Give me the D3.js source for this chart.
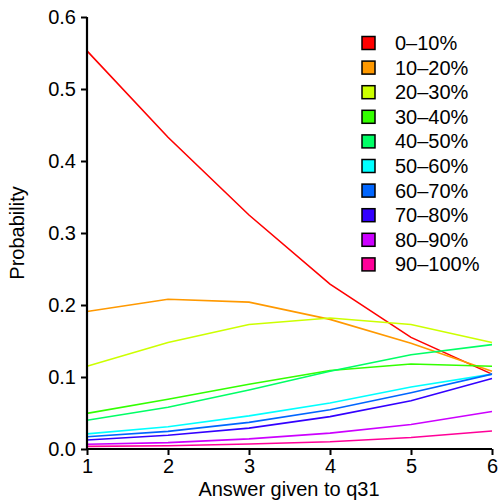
<!DOCTYPE html>
<html><head><meta charset="utf-8">
<script src="https://cdn.jsdelivr.net/npm/d3@7/dist/d3.min.js"></script>
<style>body{margin:0;background:#fff}text{font-family:"Liberation Sans",Arial,sans-serif}</style>
</head><body>
<svg id="c" width="499" height="501"></svg>
<script>
const xValues = [1, 2, 3, 4, 5, 6];
const seriesNames = ["0\u201310%","10\u201320%","20\u201330%","30\u201340%","40\u201350%","50\u201360%","60\u201370%","70\u201380%","80\u201390%","90\u2013100%"];
const seriesColors = ["#FF0000","#FF9900","#CCFF00","#33FF00","#00FF66","#00FFFF","#0066FF","#3300FF","#CC00FF","#FF0099"];
const s0 = [0.553, 0.433, 0.325, 0.229, 0.155, 0.104];
const s1 = [0.191, 0.208, 0.204, 0.180, 0.147, 0.108];
const s2 = [0.115, 0.148, 0.173, 0.182, 0.173, 0.148];
const s3 = [0.0495, 0.069, 0.090, 0.109, 0.118, 0.115];
const s4 = [0.040, 0.058, 0.082, 0.108, 0.131, 0.145];
const s5 = [0.021, 0.031, 0.046, 0.064, 0.086, 0.104];
const s6 = [0.017, 0.0245, 0.037, 0.0546, 0.078, 0.104];
const s7 = [0.0125, 0.019, 0.029, 0.045, 0.067, 0.098];
const s8 = [0.0065, 0.0088, 0.014, 0.022, 0.034, 0.052];
const s9 = [0.0037, 0.0046, 0.007, 0.010, 0.016, 0.025];
const series = [s0,s1,s2,s3,s4,s5,s6,s7,s8,s9];
const yTicks = [0, 0.1, 0.2, 0.3, 0.4, 0.5, 0.6];

const svg = d3.select("#c");
const x = d3.scaleLinear().domain([1, 6]).range([87, 492]);
const y = d3.scaleLinear().domain([0, 0.6]).range([449, 17]);

const line = d3.line().x((d,i)=>x(xValues[i])).y(d=>y(d));
series.forEach((s,k)=>{
  svg.append("path").attr("d", line(s)).attr("fill","none")
    .attr("stroke", seriesColors[k]).attr("stroke-width",1.6);
});

const yAxis = d3.axisLeft(y).tickValues(yTicks).tickFormat(d3.format(".1f")).tickSize(6).tickPadding(5);
const gy = svg.append("g").attr("transform","translate(87,0)").call(yAxis);
const xAxis = d3.axisBottom(x).tickValues(xValues).tickFormat(d3.format("d")).tickSize(6).tickPadding(4);
const gx = svg.append("g").attr("transform","translate(0,449)").call(xAxis);
[gy,gx].forEach(g=>{
  g.select(".domain").attr("stroke","#000").attr("stroke-width",2.2);
  g.selectAll(".tick line").attr("stroke","#000").attr("stroke-width",2);
  g.selectAll("text").attr("font-size",20).attr("fill","#000").attr("font-family","Liberation Sans, Arial, sans-serif");
});
gy.select(".domain").attr("d","M0,"+y(0.6)+"V"+y(0));
gx.select(".domain").attr("d","M"+x(1)+",0H"+x(6));

svg.append("text").attr("x",289).attr("y",496).attr("text-anchor","middle")
  .attr("font-size",20).text("Answer given to q31");
svg.append("text").attr("transform","translate(24,233) rotate(-90)").attr("text-anchor","middle")
  .attr("font-size",20).text("Probability");

const leg = svg.append("g");
seriesNames.forEach((n,k)=>{
  const yy = 43 + k*24.6;
  leg.append("rect").attr("x",362).attr("y",yy-6.5).attr("width",13).attr("height",13)
    .attr("fill",seriesColors[k]).attr("stroke","#000").attr("stroke-width",1.5);
  leg.append("text").attr("x",395).attr("y",yy+7).attr("font-size",20).text(n);
});
</script>
</body></html>
